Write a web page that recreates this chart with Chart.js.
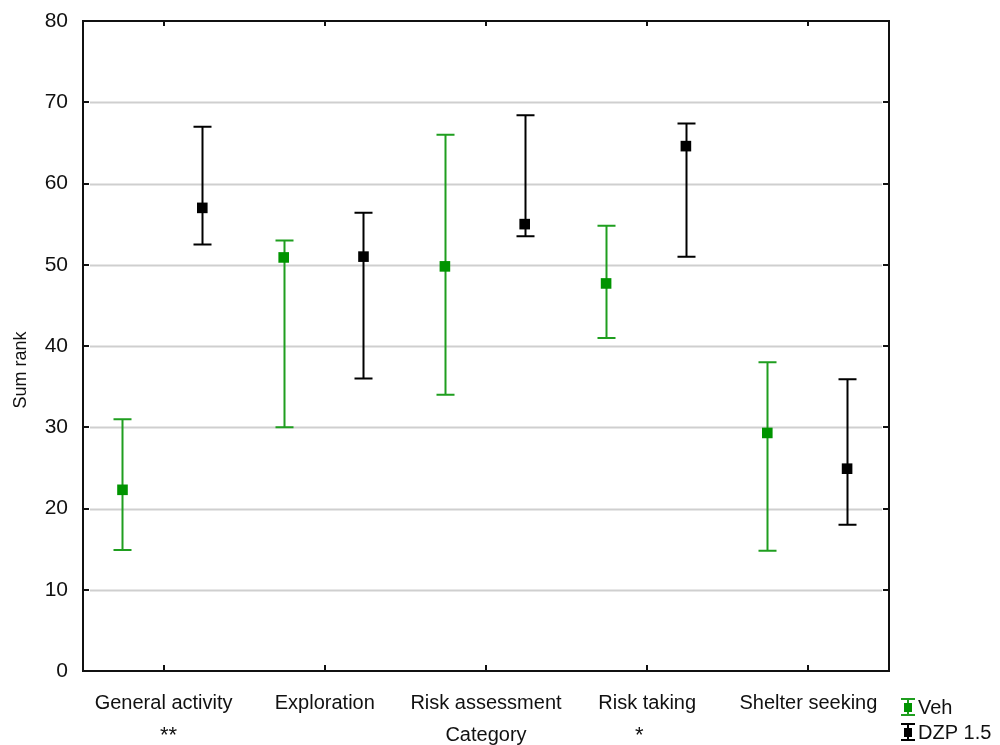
<!DOCTYPE html>
<html>
<head>
<meta charset="utf-8">
<script src="https://cdn.jsdelivr.net/npm/chart.js@4"></script>
<style>
  html, body { margin: 0; padding: 0; background: #fff; }
  #wrap { width: 1000px; height: 745px; }
</style>
</head>
<body>
<div id="wrap"><canvas id="chart"></canvas></div>
<script>
var categories = ["General activity", "Exploration", "Risk assessment", "Risk taking", "Shelter seeking"];
var stars = ["**", "", "", "*", ""];
var yTicks = [0, 10, 20, 30, 40, 50, 60, 70, 80];

var vehMed  = [22.3, 50.9, 49.8, 47.7, 29.3];
var vehLow  = [14.9, 30.0, 34.0, 41.0, 14.8];
var vehHigh = [31.0, 53.0, 66.0, 54.8, 38.0];

var dzpMed  = [57.0, 51.0, 55.0, 64.6, 24.9];
var dzpLow  = [52.5, 36.0, 53.5, 51.0, 18.0];
var dzpHigh = [67.0, 56.4, 68.4, 67.4, 35.9];

var FONT = "'Liberation Sans', Arial, sans-serif";
var GREEN = "#1f9e1f";
var GREEN_PT = "#009400";

function points(vals, shift) {
    return vals.map(function (v, i) { return { x: i + 0.5 + shift, y: v }; });
}

// frame, grid, inward ticks, error bars
var frame = {
    id: "frame",
    beforeDatasetsDraw: function (chart) {
        var ctx = chart.ctx, a = chart.chartArea;
        var sx = chart.scales.x, sy = chart.scales.y;
        ctx.save();
        ctx.lineWidth = 2;
        ctx.strokeStyle = "#cfcfcf";
        yTicks.forEach(function (t) {
            if (t === 0 || t === 80) return;
            var y = Math.round(sy.getPixelForValue(t)) + 0.5;
            ctx.beginPath(); ctx.moveTo(a.left + 7, y); ctx.lineTo(a.right - 7, y); ctx.stroke();
        });
        ctx.strokeStyle = "#111";
        ctx.lineWidth = 2;
        yTicks.forEach(function (t) {
            var y = Math.round(sy.getPixelForValue(t));
            ctx.beginPath(); ctx.moveTo(a.left, y); ctx.lineTo(a.left + 6, y); ctx.stroke();
            ctx.beginPath(); ctx.moveTo(a.right, y); ctx.lineTo(a.right - 6, y); ctx.stroke();
        });
        categories.forEach(function (c, i) {
            var x = Math.round(sx.getPixelForValue(i + 0.5));
            ctx.beginPath(); ctx.moveTo(x, a.bottom); ctx.lineTo(x, a.bottom - 6); ctx.stroke();
            ctx.beginPath(); ctx.moveTo(x, a.top); ctx.lineTo(x, a.top + 5); ctx.stroke();
        });
        ctx.strokeRect(a.left, a.top, a.right - a.left, a.bottom - a.top);

        // error bars
        chart.data.datasets.forEach(function (ds) {
            ctx.strokeStyle = ds.barColor;
            ctx.lineWidth = 2;
            ds.data.forEach(function (p, i) {
                var x = Math.round(sx.getPixelForValue(p.x)) + 0.5;
                var y1 = sy.getPixelForValue(ds.low[i]);
                var y2 = sy.getPixelForValue(ds.high[i]);
                ctx.beginPath();
                ctx.moveTo(x, y1); ctx.lineTo(x, y2);
                ctx.moveTo(x - 9, y1); ctx.lineTo(x + 9, y1);
                ctx.moveTo(x - 9, y2); ctx.lineTo(x + 9, y2);
                ctx.stroke();
            });
        });
        ctx.restore();
    },
    afterDraw: function (chart) {
        var ctx = chart.ctx, a = chart.chartArea, sx = chart.scales.x;
        var starShift = [5, 0, 0, -8, 0];
        ctx.save();
        ctx.fillStyle = "#111";
        ctx.textAlign = "center";
        ctx.textBaseline = "middle";
        ctx.font = "20px " + FONT;
        ctx.fillText("Category", (a.left + a.right) / 2, 735);
        ctx.font = "22px " + FONT;
        stars.forEach(function (s, i) {
            if (!s) return;
            ctx.fillText(s, sx.getPixelForValue(i + 0.5) + starShift[i], 736);
        });
        ctx.save();
        ctx.translate(21, 370);
        ctx.rotate(-Math.PI / 2);
        ctx.font = "18px " + FONT;
        ctx.fillText("Sum rank", 0, 0);
        ctx.restore();

        // legend
        var items = [
            { label: "Veh", bar: GREEN, pt: GREEN_PT, y: 707 },
            { label: "DZP 1.5", bar: "#000", pt: "#000", y: 732 }
        ];
        ctx.textAlign = "left";
        ctx.font = "20px " + FONT;
        items.forEach(function (it) {
            var x = 908;
            ctx.strokeStyle = it.bar;
            ctx.lineWidth = 2;
            ctx.beginPath();
            ctx.moveTo(x, it.y - 8); ctx.lineTo(x, it.y + 8);
            ctx.moveTo(x - 7, it.y - 8); ctx.lineTo(x + 7, it.y - 8);
            ctx.moveTo(x - 7, it.y + 8); ctx.lineTo(x + 7, it.y + 8);
            ctx.stroke();
            ctx.fillStyle = it.pt;
            ctx.fillRect(x - 4, it.y - 4, 8, 9);
            ctx.fillStyle = "#111";
            ctx.fillText(it.label, 918, it.y + 1);
        });
        ctx.restore();
    }
};

new Chart(document.getElementById("chart"), {
    type: "scatter",
    data: {
        datasets: [{
            label: "Veh",
            data: points(vehMed, -0.255),
            low: vehLow,
            high: vehHigh,
            barColor: GREEN,
            pointStyle: "rect",
            pointRadius: 7.5,
            pointHoverRadius: 7.5,
            backgroundColor: GREEN_PT,
            borderColor: GREEN_PT,
            borderWidth: 0
        },
        {
            label: "DZP 1.5",
            data: points(dzpMed, 0.24),
            low: dzpLow,
            high: dzpHigh,
            barColor: "#000",
            pointStyle: "rect",
            pointRadius: 7.5,
            pointHoverRadius: 7.5,
            backgroundColor: "#000",
            borderColor: "#000",
            borderWidth: 0
        }]
    },
    options: {
        responsive: true,
        maintainAspectRatio: false,
        animation: false,
        layout: { padding: { top: 21, right: 111, left: 0, bottom: 0 } },
        plugins: { legend: { display: false }, tooltip: { enabled: false } },
        scales: {
            x: {
                type: "linear",
                min: 0,
                max: 5,
                grid: { display: false },
                border: { display: false },
                afterBuildTicks: function (scale) {
                    scale.ticks = categories.map(function (c, i) { return { value: i + 0.5 }; });
                },
                afterFit: function (scale) { scale.height = 74; },
                ticks: {
                    autoSkip: false,
                    maxRotation: 0,
                    padding: 12,
                    color: "#111",
                    font: { family: FONT, size: 20 },
                    callback: function (v) { return categories[Math.round(v - 0.5)]; }
                }
            },
            y: {
                min: 0,
                max: 80,
                grid: { display: false },
                border: { display: false },
                afterBuildTicks: function (scale) {
                    scale.ticks = yTicks.map(function (v) { return { value: v }; });
                },
                afterFit: function (scale) { scale.width = 83; },
                ticks: {
                    padding: 7,
                    color: "#111",
                    font: { family: FONT, size: 21 }
                }
            }
        }
    },
    plugins: [frame]
});
</script>
</body>
</html>
